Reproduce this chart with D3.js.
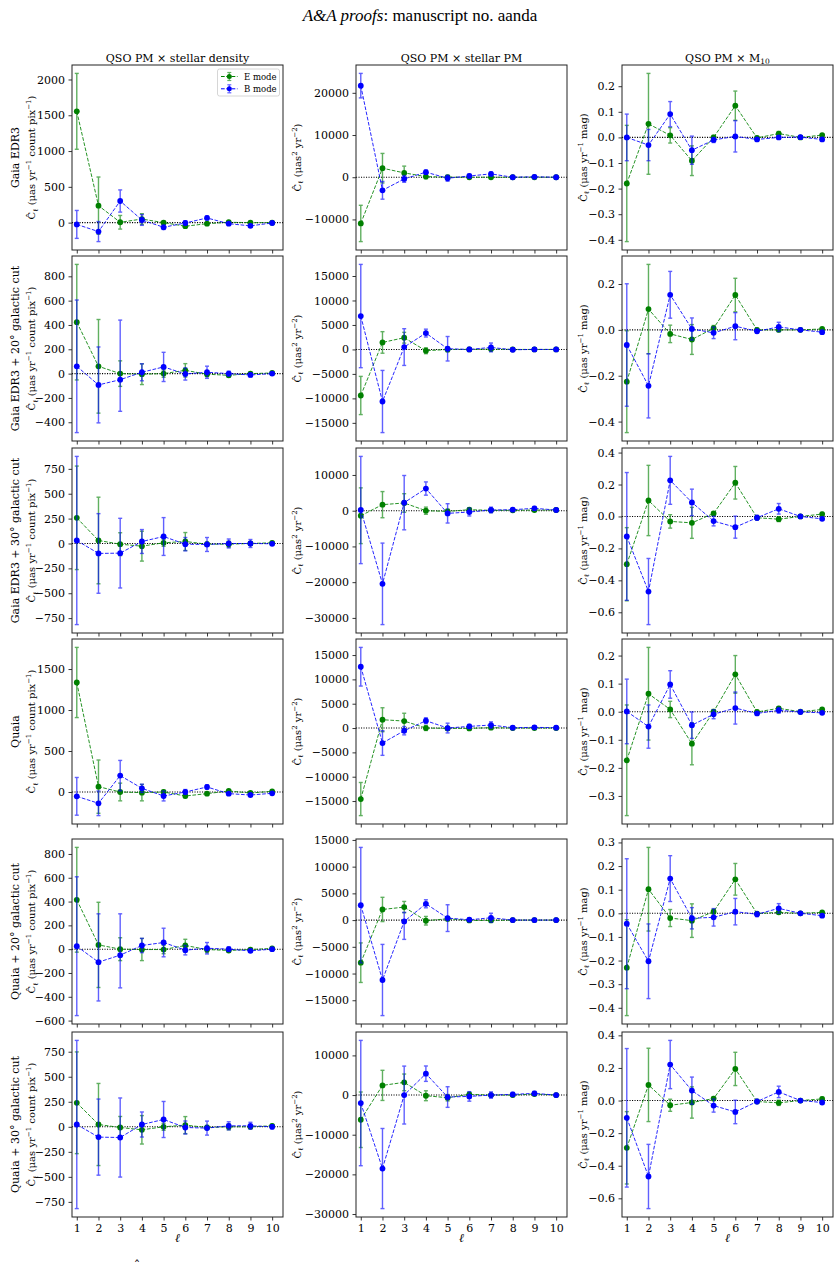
<!DOCTYPE html>
<html>
<head>
<meta charset="utf-8">
<script src="https://d3js.org/d3.v7.min.js"></script>
<style>
  body { margin: 0; background: #fff; }
  svg text { font-family: "DejaVu Serif", serif; }
</style>
</head>
<body>
<script>

// multipole index shown on the x axis
var ell = [1, 2, 3, 4, 5, 6, 7, 8, 9, 10];

var rowNames = ["Gaia EDR3", "Gaia EDR3 + 20° galactic cut", "Gaia EDR3 + 30° galactic cut",
                "Quaia", "Quaia + 20° galactic cut", "Quaia + 30° galactic cut"];
var colTitles = ["QSO PM × stellar density", "QSO PM × stellar PM", "QSO PM × M"];

// each array: [stellar density, stellar PM, M10]; an error is either +/- value or [minus, plus]
var edr3_E    = [[1555, 237, 5, 50, 0, -50, -15, 5, 0, 0],
                 [-10950, 2140, 1030, 150, 0, 0, 0, 0, 0, 0],
                 [-0.180, 0.053, 0.008, -0.091, 0.0, 0.124, -0.002, 0.015, 0.0, 0.009]];
var edr3_Eerr = [[530, 400, 95, 75, 20, 20, 15, 15, 15, 10],
                 [4300, 3500, 1600, 500, 400, 300, 200, 200, 200, 200],
                 [0.227, 0.197, 0.03, 0.058, 0.008, 0.057, 0.005, 0.008, 0.004, 0.005]];
var edr3_B    = [[-25, -125, 302, 37, -65, -5, 65, -15, -45, -5],
                 [21700, -3100, -400, 1200, -240, 300, 790, 0, 100, 0],
                 [0.0, -0.030, 0.091, -0.050, -0.010, 0.004, -0.008, 0.0, 0.001, -0.008]];
var edr3_Berr = [[195, 140, 155, 75, 30, 30, 25, 10, 15, 10],
                 [2900, 2100, 800, 500, 700, 400, 400, 300, 300, 300],
                 [0.091, 0.061, 0.049, 0.055, 0.01, 0.061, 0.006, 0.006, 0.004, 0.005]];

var edr3cut20_E    = [[423, 60, 0, -5, 0, 27, -5, -14, 0, 5],
                      [-9410, 1430, 2390, -270, 0, 0, 70, 0, 0, 0],
                      [-0.226, 0.0905, -0.0175, -0.042, 0.007, 0.152, 0.0, 0.0, 0.0, 0.004]];
var edr3cut20_Eerr = [[475, 385, 105, 85, 30, 55, 20, 15, 10, 8],
                      [3900, 2200, 1100, 600, 500, 300, 300, 200, 200, 200],
                      [0.222, 0.195, 0.038, 0.065, 0.012, 0.073, 0.006, 0.008, 0.004, 0.005]];
var edr3cut20_B    = [[60, -93, -50, 11, 55, -3, 11, 0, -11, 0],
                      [6820, -10640, 480, 3340, 140, 0, 410, -70, 0, 0],
                      [-0.066, -0.244, 0.153, 0.004, -0.013, 0.016, -0.006, 0.013, 0.0, -0.01]];
var edr3cut20_Berr = [[545, 312, [260, 490], 70, 120, 50, 50, 20, 15, 8],
                      [10550, 6350, 3750, 800, 2500, 400, 900, 300, 300, 300],
                      [0.267, 0.14, 0.102, 0.048, 0.025, 0.059, 0.008, 0.02, 0.004, 0.006]];

var edr3cut30_E    = [[258, 30, -7, -27, 7, 20, -7, -7, 0, 7],
                      [-1410, 1690, 2160, 0, -200, 280, 100, 100, 190, 190],
                      [-0.299, 0.100, -0.031, -0.040, 0.019, 0.211, -0.008, -0.017, 0.0, 0.015]];
var edr3cut30_Eerr = [[520, 435, 115, 150, 35, 90, 20, 30, 15, 12],
                      [7800, 3660, 2600, 1000, 600, 400, 400, 300, 300, 300],
                      [0.229, 0.22, 0.042, 0.097, 0.01, 0.102, 0.01, 0.015, 0.005, 0.01]];
var edr3cut30_B    = [[30, -100, -97, 20, 70, -7, -10, 0, 0, -3],
                      [190, -20470, 2250, 6200, -750, -375, 190, 280, 660, 190],
                      [-0.125, -0.470, 0.226, 0.088, -0.029, -0.067, -0.008, 0.048, 0.0, -0.015]];
var edr3cut30_Berr = [[845, 400, 350, 120, 190, 67, 70, 45, 40, 15],
                      [15000, 11400, 7600, 1850, 2700, 1100, 800, 400, 500, 400],
                      [0.4, 0.207, 0.15, 0.083, 0.03, 0.069, 0.015, 0.033, 0.005, 0.008]];

var quaia_E    = [[1336, 65, 0, -8, 0, -49, -20, 12, -12, 8],
                  [-14590, 1710, 1440, 0, -70, -70, 70, 0, 0, 0],
                  [-0.173, 0.064, 0.008, -0.114, 0.0, 0.133, -0.001, 0.012, 0.0, 0.008]];
var quaia_Eerr = [[428, 325, 108, 100, 20, 20, 10, 12, 10, 10],
                  [3400, 2460, 1600, 500, 400, 300, 300, 200, 200, 200],
                  [0.197, 0.165, 0.029, 0.075, 0.008, 0.067, 0.005, 0.006, 0.004, 0.005]];
var quaia_B    = [[-53, -138, 200, 45, -49, 0, 61, -20, -37, -16],
                  [12600, -3080, -550, 1500, 0, 340, 620, 70, 140, 70],
                  [0.001, -0.053, 0.097, -0.048, -0.009, 0.013, -0.006, 0.005, -0.001, -0.004]];
var quaia_Berr = [[230, 150, 185, 50, 60, 30, 25, 15, 10, 10],
                  [3970, 2530, 850, 600, 1000, 400, 650, 300, 300, 300],
                  [0.115, 0.077, 0.049, 0.047, 0.016, 0.057, 0.006, 0.01, 0.004, 0.005]];

var quaiacut20_E    = [[415, 36, 0, -3, -3, 31, -3, -11, -3, 6],
                       [-7970, 1990, 2430, -120, 250, -60, -60, 0, 0, 0],
                       [-0.230, 0.102, -0.020, -0.031, 0.007, 0.144, -0.001, 0.004, 0.0, 0.004]];
var quaiacut20_Eerr = [[440, 358, 96, 93, 35, 52, 25, 15, 10, 8],
                       [3700, 2270, 1060, 800, 400, 300, 300, 200, 200, 200],
                       [0.203, 0.177, 0.036, 0.071, 0.01, 0.067, 0.005, 0.007, 0.003, 0.005]];
var quaiacut20_B    = [[25, -109, -50, 31, 56, -8, 8, 0, -14, 0],
                       [2800, -11210, -250, 3050, 370, 60, 430, 0, 0, 0],
                       [-0.044, -0.203, 0.147, -0.021, -0.017, 0.007, -0.004, 0.021, 0.0, -0.010]];
var quaiacut20_Berr = [[583, [326, 406], [275, 347], 60, 120, 40, 48, 20, 12, 8],
                       [10800, 6660, [3360, 1700], 750, 2500, 300, 850, 300, 300, 300],
                       [0.275, 0.158, 0.097, 0.045, 0.037, 0.056, 0.01, 0.02, 0.004, 0.005]];

var quaiacut30_E    = [[240, 23, -7, -30, 0, 17, -7, 0, 0, 10],
                       [-6230, 2440, 3200, -170, -670, 170, 0, 0, 250, 0],
                       [-0.290, 0.096, -0.029, -0.012, 0.012, 0.194, -0.006, -0.014, 0.0, 0.01]];
var quaiacut30_Eerr = [[508, 410, 110, 142, 35, 85, 20, 30, 15, 12],
                       [7000, 3800, 2100, 1250, 800, 500, 300, 300, 300, 300],
                       [0.222, 0.225, 0.037, 0.096, 0.012, 0.102, 0.01, 0.016, 0.005, 0.01]];
var quaiacut30_B    = [[23, -103, -107, 23, 73, -7, -13, 10, 10, 0],
                       [-2020, -18530, 0, 5390, -500, -340, 0, 170, 420, 0],
                       [-0.106, -0.466, 0.221, 0.061, -0.031, -0.070, -0.006, 0.053, 0.0, -0.012]];
var quaiacut30_Berr = [[840, 380, 395, 125, 180, 65, 70, 40, 35, 20],
                       [15800, 10100, 7300, 1940, 2600, 1200, 800, 500, 500, 400],
                       [0.425, 0.197, 0.148, 0.083, 0.04, 0.072, 0.012, 0.035, 0.006, 0.01]];

// y tick values per row, per column
var yTicks = [
  [[0, 500, 1000, 1500, 2000], [-10000, 0, 10000, 20000], [-0.4, -0.3, -0.2, -0.1, 0, 0.1, 0.2]],
  [[-400, -200, 0, 200, 400, 600, 800], [-15000, -10000, -5000, 0, 5000, 10000, 15000], [-0.4, -0.2, 0, 0.2]],
  [[-750, -500, -250, 0, 250, 500, 750], [-30000, -20000, -10000, 0, 10000], [-0.6, -0.4, -0.2, 0, 0.2, 0.4]],
  [[0, 500, 1000, 1500], [-15000, -10000, -5000, 0, 5000, 10000, 15000], [-0.4, -0.3, -0.2, -0.1, 0, 0.1, 0.2]],
  [[-600, -400, -200, 0, 200, 400, 600, 800], [-15000, -10000, -5000, 0, 5000, 10000, 15000], [-0.4, -0.3, -0.2, -0.1, 0, 0.1, 0.2, 0.3]],
  [[-750, -500, -250, 0, 250, 500, 750], [-30000, -20000, -10000, 0, 10000], [-0.6, -0.4, -0.2, 0, 0.2, 0.4]]
];

var rows = [
  {E: edr3_E, Eerr: edr3_Eerr, B: edr3_B, Berr: edr3_Berr},
  {E: edr3cut20_E, Eerr: edr3cut20_Eerr, B: edr3cut20_B, Berr: edr3cut20_Berr},
  {E: edr3cut30_E, Eerr: edr3cut30_Eerr, B: edr3cut30_B, Berr: edr3cut30_Berr},
  {E: quaia_E, Eerr: quaia_Eerr, B: quaia_B, Berr: quaia_Berr},
  {E: quaiacut20_E, Eerr: quaiacut20_Eerr, B: quaiacut20_B, Berr: quaiacut20_Berr},
  {E: quaiacut30_E, Eerr: quaiacut30_Eerr, B: quaiacut30_B, Berr: quaiacut30_Berr}
];

// layout
var colX = [72, 356, 622], panelW = 211;
var rowY = [65, 256, 448, 639, 839, 1032], panelH = 185;
var colorE = "#008000", colorB = "#0000ff";

function errLo(e) { return Array.isArray(e) ? e[0] : e; }
function errHi(e) { return Array.isArray(e) ? e[1] : e; }

var svg = d3.select("body").append("svg")
            .attr("width", 839)
            .attr("height", 1275);
svg.append("rect").attr("width", 839).attr("height", 1275).attr("fill", "#fff");

// page header
var title = svg.append("text")
               .attr("x", 420).attr("y", 21)
               .attr("text-anchor", "middle")
               .style("font-family", '"Liberation Serif", serif')
               .style("font-size", "17px");
title.append("tspan").style("font-style", "italic").text("A&A proofs");
title.append("tspan").text(": manuscript no. aanda");

// stray caption glyph at the bottom
svg.append("text").attr("x", 137).attr("y", 1270).attr("text-anchor", "middle")
   .style("font-size", "13px").text("ˆ");

// column titles
colTitles.forEach(function (t, ci) {
  var tx = svg.append("text")
              .attr("x", colX[ci] + panelW / 2).attr("y", 61.5)
              .attr("text-anchor", "middle")
              .style("font-size", "11px");
  tx.append("tspan").text(t);
  if (ci === 2) {
    tx.append("tspan").attr("dy", 2.5).style("font-size", "7.5px").text("10");
  }
});

// writes a label made of normal / sup / sub pieces
function richText(sel, parts, fs) {
  var shift = 0;
  parts.forEach(function (p) {
    var ts = sel.append("tspan").text(p[0]);
    var target = 0, size = fs;
    if (p[1] === "sup") { target = -0.38 * fs; size = 0.7 * fs; }
    if (p[1] === "sub") { target = 0.25 * fs; size = 0.7 * fs; }
    ts.attr("dy", target - shift).style("font-size", size + "px");
    shift = target;
  });
}

var unitLabels = [
  [["Ĉ", "n"], ["ℓ", "sub"], [" (μas yr", "n"], ["−1", "sup"], [" count pix", "n"], ["−1", "sup"], [")", "n"]],
  [["Ĉ", "n"], ["ℓ", "sub"], [" (μas", "n"], ["2", "sup"], [" yr", "n"], ["−2", "sup"], [")", "n"]],
  [["Ĉ", "n"], ["ℓ", "sub"], [" (μas yr", "n"], ["−1", "sup"], [" mag)", "n"]]
];
var unitX = [31.5, 297, 583];

var x = d3.scaleLinear().domain([0.78, 10.5]).range([0, panelW]);

rows.forEach(function (r, ri) {
  var cy = rowY[ri] + panelH / 2;

  // row name
  svg.append("text")
     .attr("transform", "translate(15.5," + cy + ") rotate(-90)")
     .attr("dy", "0.35em")
     .attr("text-anchor", "middle")
     .style("font-size", "11px")
     .text(rowNames[ri]);

  for (var ci = 0; ci < 3; ci++) {
    var E = r.E[ci], Eerr = r.Eerr[ci], B = r.B[ci], Berr = r.Berr[ci];

    // autoscale with 5% margins
    var lows = [], highs = [];
    for (var i = 0; i < ell.length; i++) {
      lows.push(E[i] - errLo(Eerr[i]), B[i] - errLo(Berr[i]));
      highs.push(E[i] + errHi(Eerr[i]), B[i] + errHi(Berr[i]));
    }
    var yMin = d3.min(lows), yMax = d3.max(highs), pad = 0.05 * (yMax - yMin);
    var y = d3.scaleLinear().domain([yMin - pad, yMax + pad]).range([panelH, 0]);

    var g = svg.append("g").attr("transform", "translate(" + colX[ci] + "," + rowY[ri] + ")");
    var clipId = "clip-" + ri + "-" + ci;
    g.append("clipPath").attr("id", clipId)
     .append("rect").attr("width", panelW).attr("height", panelH);

    // axes
    var fmt = ci === 2 ? d3.format(".1f") : d3.format("d");
    var ticks = yTicks[ri][ci].filter(function (t) { return t >= y.domain()[0] && t <= y.domain()[1]; });
    var ya = g.append("g")
              .call(d3.axisLeft(y).tickValues(ticks).tickSize(3.5).tickPadding(3.5).tickFormat(fmt));
    var xa = g.append("g")
              .attr("transform", "translate(0," + panelH + ")")
              .call(d3.axisBottom(x).tickValues(ell).tickSize(3.5).tickPadding(3.5)
                      .tickFormat(ri === rows.length - 1 ? d3.format("d") : function () { return ""; }));
    [ya, xa].forEach(function (a) {
      a.select(".domain").remove();
      a.attr("font-family", '"DejaVu Serif", serif').attr("font-size", 11);
      a.selectAll(".tick line").attr("stroke", "#000").attr("stroke-width", 0.8);
      a.selectAll(".tick text").attr("fill", "#000");
    });

    // y label
    var yl = svg.append("text")
                .attr("transform", "translate(" + unitX[ci] + "," + cy + ") rotate(-90)")
                .attr("text-anchor", "middle");
    richText(yl, unitLabels[ci], 10);
    yl.select("tspan").attr("dy", 3.5);

    var plot = g.append("g").attr("clip-path", "url(#" + clipId + ")");

    // zero line
    plot.append("line")
        .attr("x1", 0).attr("x2", panelW)
        .attr("y1", y(0)).attr("y2", y(0))
        .attr("stroke", "#000").attr("stroke-width", 1.1)
        .attr("stroke-dasharray", "1.1,1.4");

    [[E, Eerr, colorE], [B, Berr, colorB]].forEach(function (s) {
      var vals = s[0], errs = s[1], col = s[2];
      var pts = ell.map(function (l, i) {
        return {l: l, v: vals[i], lo: vals[i] - errLo(errs[i]), hi: vals[i] + errHi(errs[i])};
      });

      var bars = plot.append("g").attr("stroke", col).attr("stroke-width", 1.4).attr("opacity", 0.62);
      bars.selectAll(".bar").data(pts).enter().append("line")
          .attr("x1", function (d) { return x(d.l); })
          .attr("x2", function (d) { return x(d.l); })
          .attr("y1", function (d) { return y(d.lo); })
          .attr("y2", function (d) { return y(d.hi); });
      ["lo", "hi"].forEach(function (k) {
        bars.selectAll(".cap-" + k).data(pts).enter().append("line")
            .attr("x1", function (d) { return x(d.l) - 2; })
            .attr("x2", function (d) { return x(d.l) + 2; })
            .attr("y1", function (d) { return y(d[k]); })
            .attr("y2", function (d) { return y(d[k]); });
      });

      plot.append("path")
          .datum(pts)
          .attr("fill", "none")
          .attr("stroke", col)
          .attr("stroke-width", 1)
          .attr("stroke-opacity", 0.85)
          .attr("stroke-dasharray", "3.7,1.6")
          .attr("d", d3.line().x(function (d) { return x(d.l); }).y(function (d) { return y(d.v); }));

      plot.selectAll(null).data(pts).enter().append("circle")
          .attr("cx", function (d) { return x(d.l); })
          .attr("cy", function (d) { return y(d.v); })
          .attr("r", 2.9)
          .attr("fill", col);
    });

    // frame
    g.append("rect").attr("width", panelW).attr("height", panelH)
     .attr("fill", "none").attr("stroke", "#222").attr("stroke-width", 1);

    if (ri === rows.length - 1) {
      g.append("text")
       .attr("x", panelW / 2).attr("y", panelH + 25)
       .attr("text-anchor", "middle")
       .style("font-size", "12px").style("font-style", "italic")
       .text("ℓ");
    }

    // legend in the first panel
    if (ri === 0 && ci === 0) {
      var lg = g.append("g").attr("transform", "translate(145.5,4)");
      lg.append("rect").attr("width", 62).attr("height", 27).attr("rx", 2)
        .attr("fill", "#fff").attr("fill-opacity", 0.8)
        .attr("stroke", "#ccc").attr("stroke-width", 0.8);
      [["E mode", colorE], ["B mode", colorB]].forEach(function (it, k) {
        var ly = 7.5 + k * 12.3;
        var e = lg.append("g").attr("transform", "translate(0," + ly + ")");
        e.append("line").attr("x1", 3.5).attr("x2", 20).attr("y1", 0).attr("y2", 0)
         .attr("stroke", it[1]).attr("stroke-width", 1).attr("stroke-dasharray", "3.7,1.6");
        var eb = e.append("g").attr("stroke", it[1]).attr("stroke-width", 1.2).attr("opacity", 0.6);
        eb.append("line").attr("x1", 11.8).attr("x2", 11.8).attr("y1", -4).attr("y2", 4);
        eb.append("line").attr("x1", 9.8).attr("x2", 13.8).attr("y1", -4).attr("y2", -4);
        eb.append("line").attr("x1", 9.8).attr("x2", 13.8).attr("y1", 4).attr("y2", 4);
        e.append("circle").attr("cx", 11.8).attr("cy", 0).attr("r", 2.5).attr("fill", it[1]);
        e.append("text").attr("x", 26.5).attr("y", 3)
         .style("font-size", "8.5px").text(it[0]);
      });
    }
  }
});

</script>
</body>
</html>
